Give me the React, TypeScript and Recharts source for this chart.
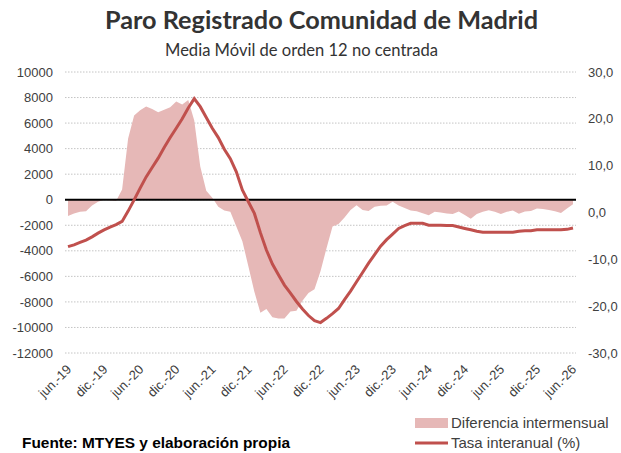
import React from "react";
import {
  ComposedChart,
  Area,
  Line,
  XAxis,
  YAxis,
  CartesianGrid,
  ReferenceLine,
} from "recharts";

// meses jun-19 .. jun-26
const MESES = ["ene.", "feb.", "mar.", "abr.", "may.", "jun.", "jul.", "ago.", "sep.", "oct.", "nov.", "dic."];
const MES_INICIO = 5; // junio
const ANIO_INICIO = 19;

// Diferencia intermensual (eje izquierdo)
const diferencia = [
  -1270, -1080, -950, -900, -450, -150, 0, -50, -100, 800,
  4800, 6600, 7000, 7300, 7100, 6850, 7050, 7250, 7700, 7450,
  7800, 6200, 2600, 700, 150, -550, -850, -950, -2100, -3250,
  -5200, -7200, -8850, -8550, -9200, -9300, -9300, -8750, -8700, -7900,
  -7300, -7000, -5600, -3800, -2100, -1900, -1400, -800, -430, -800,
  -880, -550, -480, -450, -150, -450, -650, -850, -900, -1050,
  -1220, -950, -1000, -1080, -1120, -920, -1200, -1480, -1120, -950,
  -820, -950, -1120, -950, -850, -1100, -920, -880, -690, -720,
  -800, -900, -1030, -690, -350,
];

// Tasa interanual % (eje derecho)
const tasa = [
  -7.3, -6.9, -6.4, -5.9, -5.2, -4.4, -3.7, -3.1, -2.6, -1.9,
  0.3, 2.7, 5.2, 7.6, 9.6, 11.6, 13.9, 16.0, 18.0, 20.0,
  22.3, 24.3, 22.6, 20.3, 18.0, 16.0, 13.5, 11.5, 8.7, 4.8,
  2.3, -0.2, -4.3, -8.0, -11.0, -13.3, -15.5, -17.2, -19.0, -20.6,
  -22.0, -23.1, -23.5, -22.6, -21.6, -20.5, -18.6, -16.8, -14.8, -12.8,
  -10.8, -9.0, -7.2, -5.8, -4.6, -3.4, -2.8, -2.3, -2.3, -2.3,
  -2.7, -2.7, -2.7, -2.8, -2.8, -3.1, -3.4, -3.7, -4.0, -4.2,
  -4.2, -4.2, -4.2, -4.2, -4.2, -4.0, -3.9, -3.9, -3.7, -3.7,
  -3.7, -3.7, -3.7, -3.6, -3.3,
];

const ticksIzq = [-12000, -10000, -8000, -6000, -4000, -2000, 0, 2000, 4000, 6000, 8000, 10000];
const ticksDer = [-30, -20, -10, 0, 10, 20, 30];

const data = diferencia.map((d, i) => {
  const m = MES_INICIO + i;
  return {
    mes: `${MESES[m % 12]}-${ANIO_INICIO + Math.floor(m / 12)}`,
    diferencia: d,
    tasa: tasa[i],
  };
});

const ROJO = "#C0504D";
const ROSA = "#E6B8B7";
const GRIS = "#404040";
const FUENTE_EJE = "'Liberation Sans', Arial, sans-serif";
const FUENTE_TITULO = "Lato, 'Open Sans', sans-serif";

const TickX = ({ x, y, payload }: any) => (
  <text
    transform={`translate(${x + 1},${y + 6}) rotate(-45)`}
    textAnchor="end"
    dy="0.35em"
    fontSize={13}
    fontFamily={FUENTE_EJE}
    fill={GRIS}
  >
    {payload.value}
  </text>
);

export default function App() {
  return (
    <div style={{ position: "absolute", left: 0, top: 0, width: 621, height: 453, background: "#fff", overflow: "hidden" }}>
      <ComposedChart
        width={621}
        height={453}
        data={data}
        margin={{ top: 72, right: 0, bottom: 60, left: 0 }}
      >
        <CartesianGrid
          yAxisId="izq"
          vertical={false}
          stroke="#c4c4c4"
          strokeDasharray="1.5 1.5"
        />
        <XAxis
          dataKey="mes"
          interval={5}
          padding={{ left: 3, right: 3 }}
          axisLine={false}
          tickLine={false}
          height={40}
          tick={<TickX />}
        />
        <YAxis
          yAxisId="izq"
          orientation="left"
          width={65}
          domain={[-12000, 10000]}
          ticks={ticksIzq}
          axisLine={false}
          tickLine={false}
          tickSize={0}
          tickMargin={12}
          tick={{ fontSize: 13, fontFamily: FUENTE_EJE, fill: GRIS }}
        />
        <YAxis
          yAxisId="der"
          orientation="right"
          width={45}
          domain={[-30, 30]}
          ticks={ticksDer}
          axisLine={false}
          tickLine={false}
          tickSize={0}
          tickMargin={12}
          tickFormatter={(v: number) => v.toFixed(1).replace(".", ",")}
          tick={{ fontSize: 13, fontFamily: FUENTE_EJE, fill: GRIS, textAnchor: "start" }}
        />
        <Area
          yAxisId="izq"
          type="linear"
          dataKey="diferencia"
          fill={ROSA}
          fillOpacity={1}
          stroke="none"
          isAnimationActive={false}
        />
        <ReferenceLine yAxisId="izq" y={0} stroke="#000" strokeWidth={2} />
        <Line
          yAxisId="der"
          type="linear"
          dataKey="tasa"
          stroke={ROJO}
          strokeWidth={3}
          dot={false}
          isAnimationActive={false}
        />
      </ComposedChart>

      <svg width={621} height={453} style={{ position: "absolute", left: 0, top: 0, pointerEvents: "none" }}>
        <text x={105} y={29} textLength={433} lengthAdjust="spacingAndGlyphs" fontSize={24} fontWeight="bold" fontFamily={FUENTE_TITULO} fill="#333">
          Paro Registrado Comunidad de Madrid
        </text>
        <text x={165} y={56} textLength={273} lengthAdjust="spacingAndGlyphs" fontSize={17} fontFamily={FUENTE_TITULO} fill="#333">
          Media Móvil de orden 12 no centrada
        </text>

        <rect x={415} y={418} width={33} height={10} fill={ROSA} />
        <text x={451} y={428} fontSize={15} fontFamily={FUENTE_EJE} fill={GRIS}>
          Diferencia intermensual
        </text>
        <line x1={415} x2={448} y1={443} y2={443} stroke={ROJO} strokeWidth={3} />
        <text x={451} y={448} fontSize={15} fontFamily={FUENTE_EJE} fill={GRIS}>
          Tasa interanual (%)
        </text>

        <text x={22} y={448} textLength={268} lengthAdjust="spacingAndGlyphs" fontSize={14} fontWeight="bold" fontFamily={FUENTE_EJE} fill="#000">
          Fuente:  MTYES  y elaboración propia
        </text>
      </svg>
    </div>
  );
}
